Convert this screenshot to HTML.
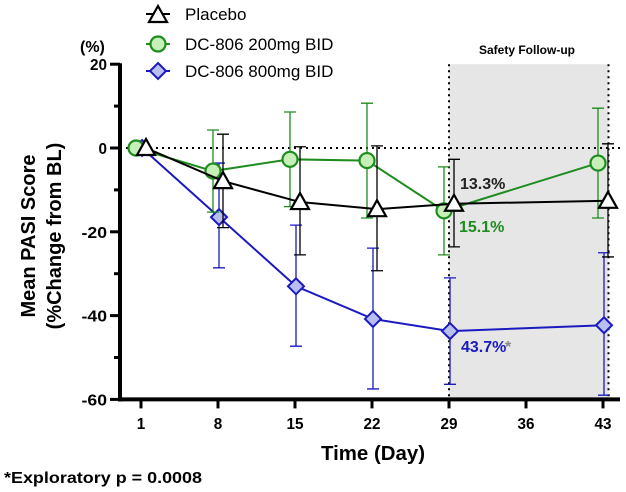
<!DOCTYPE html>
<html><head><meta charset="utf-8"><style>
body{margin:0;background:#fff;}
svg{display:block;font-family:"Liberation Sans",Arial,sans-serif;}
</style></head><body>
<svg id="chart" width="626" height="492" viewBox="0 0 626 492" xmlns="http://www.w3.org/2000/svg">
<g id="bg"></g>
<g id="axes"></g>
<g id="series"></g>
<g id="labels"></g>
</svg>
<script>
const days = [1, 8, 15, 22, 29, 43];
const xTicks = [1, 8, 15, 22, 29, 36, 43];
const yTicks = [20, 0, -20, -40, -60];
const yMinor = [10, -10, -30, -50];
const placeboMean = [0, -7.9, -12.9, -14.6, -13.3, -12.6];
const placeboLow = [0, -19, -25.5, -29.3, -23.6, -26];
const placeboHigh = [0, 3.3, 0.3, 0.5, -2.7, 1];
const dc200Mean = [0, -5.5, -2.7, -3.0, -15.0, -3.6];
const dc200Low = [0, -15.3, -14, -16.7, -25.5, -16.7];
const dc200High = [0, 4.3, 8.6, 10.7, -4.5, 9.5];
const dc800Mean = [0, -16.5, -33, -40.8, -43.7, -42.3];
const dc800Low = [0, -28.6, -47.3, -57.5, -56.4, -59];
const dc800High = [0, -3.6, -18.4, -23.9, -31, -25];
const shadeRange = [29, 43.5];

const NS = "http://www.w3.org/2000/svg";
function X(d){ return 141 + (d - 1) * 11; }
function Y(v){ return 148 - v * 4.19; }
function mk(parent, tag, attrs, text){
  const e = document.createElementNS(NS, tag);
  for (const k in attrs) e.setAttribute(k, attrs[k]);
  if (text !== undefined) e.textContent = text;
  document.getElementById(parent).appendChild(e);
  return e;
}
let e;
e = mk('bg','rect',{x:X(shadeRange[0]),y:Y(20),width:X(shadeRange[1])-X(shadeRange[0]),height:Y(-60)-Y(20),fill:'#e6e6e6'});


[shadeRange[0], shadeRange[1]].forEach(d=>{
  e = mk('bg','line',{x1:X(d),x2:X(d),y1:Y(20),y2:Y(-60),stroke:'#000','stroke-width':2,'stroke-dasharray':'2 4'});
  
  
});
e = mk('bg','text',{x:527,y:54,'font-size':12,'font-weight':'bold','text-anchor':'middle'},'Safety Follow-up');


e = mk('bg','line',{x1:120,x2:622,y1:Y(0),y2:Y(0),stroke:'#000','stroke-width':2,'stroke-dasharray':'2 4'});


e = mk('axes','line',{x1:120,x2:120,y1:Y(20)-1,y2:Y(-60)+2,stroke:'#000','stroke-width':4});


e = mk('axes','line',{x1:118,x2:620,y1:Y(-60),y2:Y(-60),stroke:'#000','stroke-width':4});


yTicks.forEach(v=>{
  e = mk('axes','line',{x1:110,x2:120,y1:Y(v),y2:Y(v),stroke:'#000','stroke-width':3});
  
  
  e = mk('axes','text',{x:107,y:Y(v)+6,'font-size':16,'font-weight':'bold','text-anchor':'end','textLength':String(v).length*8.5,'lengthAdjust':'spacingAndGlyphs'},String(v));
  
  
});
yMinor.forEach(v=>{
  e = mk('axes','line',{x1:114,x2:120,y1:Y(v),y2:Y(v),stroke:'#000','stroke-width':3});
  
  
});
xTicks.forEach(d=>{
  e = mk('axes','line',{x1:X(d),x2:X(d),y1:Y(-60),y2:Y(-60)+9,stroke:'#000','stroke-width':3});
  
  
  e = mk('axes','text',{x:X(d),y:429,'font-size':16,'font-weight':'bold','text-anchor':'middle','textLength':String(d).length*8.5,'lengthAdjust':'spacingAndGlyphs'},String(d));
  
  
});
e = mk('labels','text',{x:373,y:460,'font-size':20,'font-weight':'bold','text-anchor':'middle','textLength':104,'lengthAdjust':'spacingAndGlyphs'},'Time (Day)');


e = mk('labels','text',{x:0,y:0,'font-size':20,'font-weight':'bold','text-anchor':'middle',transform:'translate(35,236) rotate(-90)'},'Mean PASI Score');


e = mk('labels','text',{x:0,y:0,'font-size':20,'font-weight':'bold','text-anchor':'middle',transform:'translate(61,236) rotate(-90)'},'(%Change from BL)');


e = mk('labels','text',{x:80,y:52,'font-size':16,'font-weight':'bold'},'(%)');


e = mk('labels','text',{x:4,y:483,'font-size':16,'font-weight':'bold','textLength':198,'lengthAdjust':'spacingAndGlyphs'},'*Exploratory p = 0.0008');



function marker(g, type, cx, cy){
  if (type==='tri') return mk(g,'polygon',{points:`${cx},${cy-9} ${cx-9},${cy+7} ${cx+9},${cy+7}`,fill:'#fff',stroke:'#000','stroke-width':2.2});
  if (type==='circ') return mk(g,'circle',{cx:cx,cy:cy,r:7.5,fill:'#c6f0b8',stroke:'#1e8c1e','stroke-width':2.2});
  return mk(g,'polygon',{points:`${cx},${cy-8} ${cx+8},${cy} ${cx},${cy+8} ${cx-8},${cy}`,fill:'#b8bff0',stroke:'#1a1ac0','stroke-width':2});
}
function drawSeries(name, mean, lo, hi, off, color, type){
  let pts = days.map((d,i)=>`${X(d)+off},${Y(mean[i])}`).join(' ');
  days.forEach((d,i)=>{
    if (i===0) return;
    const x = X(d)+off;
    e = mk('series','path',{d:`M${x},${Y(hi[i])}V${Y(lo[i])}M${x-6},${Y(hi[i])}H${x+6}M${x-6},${Y(lo[i])}H${x+6}`,stroke:color,'stroke-width':1.3,fill:'none'});
    
    
  });
  e = mk('series','polyline',{points:pts,fill:'none',stroke:color,'stroke-width':2});
  
  
  days.forEach((d,i)=>{
    e = marker('series',type,X(d)+off,Y(mean[i]));
    
    
  });
}
drawSeries('dc806-800mg', dc800Mean, dc800Low, dc800High, 1, '#1a1ac0', 'dia');
drawSeries('dc806-200mg', dc200Mean, dc200Low, dc200High, -5, '#1e8c1e', 'circ');
drawSeries('placebo', placeboMean, placeboLow, placeboHigh, 5, '#000', 'tri');

e = mk('labels','text',{x:460,y:189,'font-size':16,'font-weight':'bold',fill:'#222'},'13.3%');


e = mk('labels','text',{x:459,y:232,'font-size':16,'font-weight':'bold',fill:'#1e8c1e'},'15.1%');


e = mk('labels','text',{x:461,y:352,'font-size':16,'font-weight':'bold',fill:'#1a1ac0'},'43.7%');


e = mk('labels','text',{x:505,y:352,'font-size':16,'font-weight':'bold',fill:'#888'},'*');



const legend = [['placebo','Placebo','tri','#000',14],['dc806-200mg','DC-806 200mg BID','circ','#1e8c1e',44],['dc806-800mg','DC-806 800mg BID','dia','#1a1ac0',71]];
legend.forEach(l=>{
  e = mk('labels','line',{x1:146,x2:170,y1:l[4],y2:l[4],stroke:l[3],'stroke-width':2});
  
  
  e = marker('labels',l[2],158,l[4]+(l[2]==='tri'?1:0));
  
  
  e = mk('labels','text',{x:185,y:l[4]+6,'font-size':17},l[1]);
  
  
});
</script>
</body></html>
